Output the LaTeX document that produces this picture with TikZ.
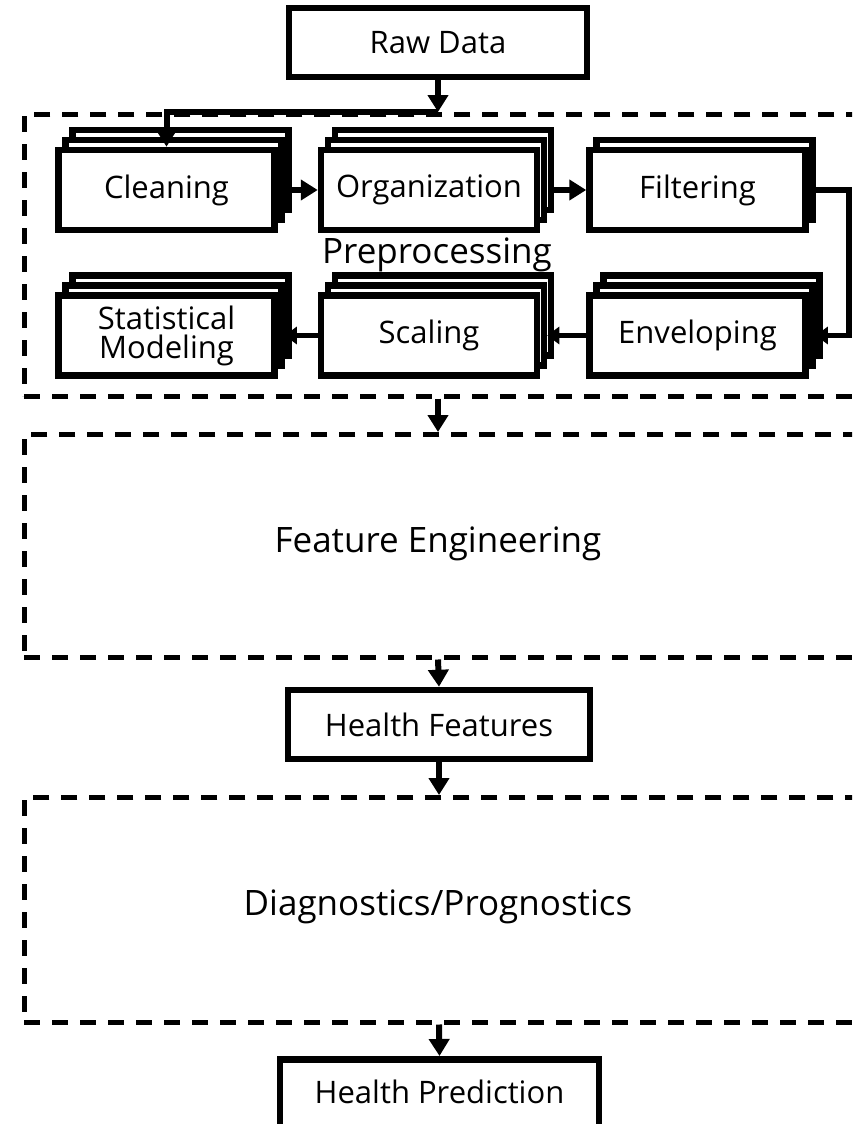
\documentclass[tikz,border=0pt]{standalone}
\usepackage{fontspec}
\setmainfont{Open Sans}
\usetikzlibrary{arrows.meta,calc}
\begin{document}
\begin{tikzpicture}[x=1pt,y=-1pt,
  box/.style={draw,line width=6.5pt,fill=white,minimum width=216pt,minimum height=80pt,inner sep=0pt,align=center,font=\fontsize{31}{29}\selectfont},
  mainbox/.style={draw,line width=6.5pt,fill=white,inner sep=0pt,font=\fontsize{31}{36}\selectfont},
  dashbox/.style={draw,line width=4.5pt,dash pattern=on 16pt off 12pt,inner sep=0pt,minimum width=880pt,anchor=north west},
  arr/.style={line width=6pt,-{Triangle[length=17pt,width=20pt]}},
  arrs/.style={line width=5.5pt,-{Triangle[length=12pt,width=17pt]}},
  big/.style={font=\fontsize{35}{40}\selectfont}
]
\clip (0,0) rectangle (852,1124);
\fill[white] (0,0) rectangle (852,1124);

% dashed stage frames
\node[dashbox,minimum height=282pt] (pre) at (22,112) {};
\node[dashbox,minimum height=223pt] (fe) at (22,432) {};
\node[dashbox,minimum height=225pt] (diag) at (22,795) {};

\node[big,anchor=base] (pretext) at (437,263) {Preprocessing};
\node[big] (fetext) at (438,544) {Feature Engineering};
\node[big] (diagtext) at (438,907) {Diagnostics/Prognostics};

% main boxes
\node[mainbox,minimum width=298pt,minimum height=69pt] (raw) at (438,42.5) {Raw Data};
\node[mainbox,minimum width=302pt,minimum height=69pt] (hf) at (439,724.5) {Health Features};
\node[mainbox,minimum width=319pt,text height=44pt,text depth=40pt,anchor=north] (hp) at (439.5,1056) {Health Prediction};

% stacked process boxes
\node[box] (clean3) at (180.5,170) {};
\node[box] (clean2) at (173.5,180) {};
\node[box] (clean) at (166.5,190) {Cleaning};

\node[box] (org3) at (443,170) {};
\node[box] (org2) at (436,180) {};
\node[box] (org) at (429,190) {Organization};

\node[box] (filt2) at (704.5,180) {};
\node[box] (filt) at (697.5,190) {Filtering};

\node[box] (stat3) at (180.5,315.5) {};
\node[box] (stat2) at (173.5,325.5) {};
\node[box] (stat) at (166.5,335.5) {Statistical\\Modeling};

\node[box] (scal3) at (443,315.5) {};
\node[box] (scal2) at (436,325.5) {};
\node[box] (scal) at (429,335.5) {Scaling};

\node[box] (env3) at (711.5,315.5) {};
\node[box] (env2) at (704.5,325.5) {};
\node[box] (env) at (697.5,335.5) {Enveloping};

% connectors
\draw[arr] (raw.south) -- (raw.south |- pre.north);
\draw[arr] (raw.south |- pre.north) -| (clean.north);
\draw[arr] (clean3.east |- clean.center) -- (org.west);
\draw[arr] (org3.east |- org.center) -- (filt.west);
\draw[arrs] (filt2.east |- filt.center) -- ++(33,0) |- (env2.east |- env.center);
\draw[arrs] (env.west) -- (scal2.east |- scal.center);
\draw[arrs] (scal.west) -- (stat2.east |- stat.center);

\draw[arr] (raw.south |- pre.south) -- (raw.south |- fe.north);
\draw[arr] (raw.south |- fe.south) -- (hf.north);
\draw[arr] (hf.south) -- (hf.south |- diag.north);
\draw[arr] (hf.south |- diag.south) -- (hp.north);
\end{tikzpicture}
\end{document}
